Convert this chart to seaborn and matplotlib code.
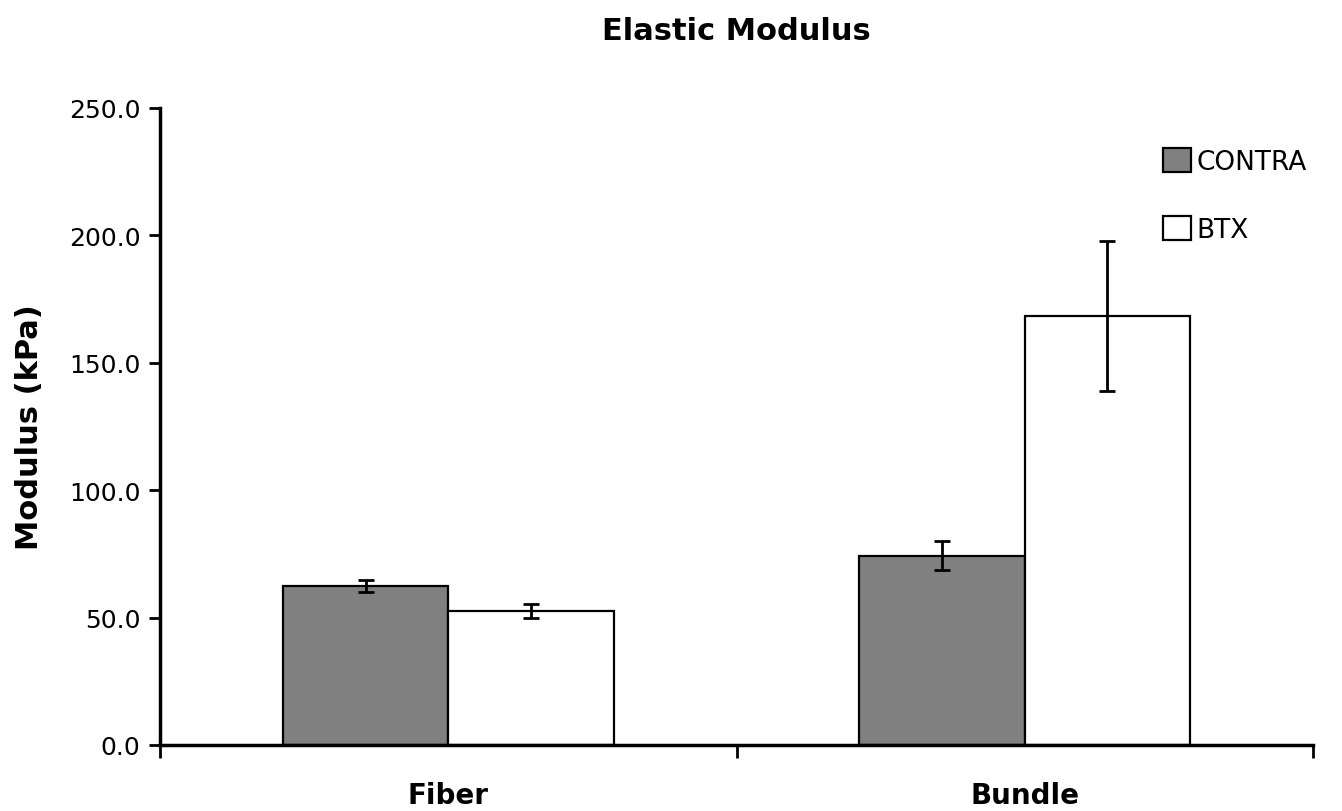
import pandas as pd
import seaborn as sns
import matplotlib.pyplot as plt
from matplotlib.patches import Patch

# data
tissues = ['Fiber', 'Bundle']
groups = ['CONTRA', 'BTX']
contra_mean = [62.5, 74.2]
contra_err = [2.4, 5.7]
btx_mean = [52.7, 168.5]
btx_err = [2.7, 29.4]

df = pd.DataFrame({
    'tissue': tissues * 2,
    'group': ['CONTRA'] * 2 + ['BTX'] * 2,
    'modulus': contra_mean + btx_mean,
})
errs = {'CONTRA': contra_err, 'BTX': btx_err}
colors = {'CONTRA': '#808080', 'BTX': 'white'}

sns.set_style('white')
plt.rcParams['font.family'] = ['DejaVu Sans']
plt.rcParams['text.color'] = 'black'
plt.rcParams['axes.labelcolor'] = 'black'
plt.rcParams['xtick.color'] = 'black'
plt.rcParams['ytick.color'] = 'black'

fig = plt.figure(figsize=(13.42, 8.12), dpi=100)
ax = fig.add_axes([160 / 1342, 1 - 746 / 812, (1313 - 160) / 1342, (746 - 109) / 812])

sns.barplot(data=df, x='tissue', y='modulus', hue='group', order=tissues,
            hue_order=groups, palette=colors, edgecolor='black', linewidth=1.6,
            width=0.574, errorbar=None, ax=ax, legend=False)

# error bars at bar centres
for grp, cont in zip(groups, ax.containers):
    xs = [b.get_x() + b.get_width() / 2 for b in cont]
    ys = [b.get_height() for b in cont]
    ax.errorbar(xs, ys, yerr=errs[grp], fmt='none', ecolor='black',
                elinewidth=2, capsize=6, capthick=2, zorder=5)

ax.set_ylim(0, 250)
ax.set_xlim(-0.5, 1.5)
ax.set_yticks(range(0, 251, 50))
ax.set_yticklabels([f'{v:.1f}' for v in range(0, 251, 50)], fontsize=18)
ax.tick_params(axis='y', direction='out', length=8, width=2, left=True, pad=6)

# excel style: ticks between categories, labels in the middle
ax.set_xticks([-0.5, 0.5, 1.5])
ax.set_xticklabels([])
ax.set_xticks([0, 1], minor=True)
ax.set_xticklabels(tissues, minor=True, fontsize=20, fontweight='bold')
ax.tick_params(axis='x', which='major', direction='out', length=9, width=2, bottom=True)
ax.tick_params(axis='x', which='minor', length=0, pad=26)

ax.set_xlabel('')
ax.set_ylabel('Modulus (kPa)', fontsize=22, fontweight='bold', labelpad=18)
ax.set_title('Elastic Modulus', fontsize=22, fontweight='bold', pad=50)

for s in ['top', 'right']:
    ax.spines[s].set_visible(False)
for s in ['left', 'bottom']:
    ax.spines[s].set_linewidth(2.5)
    ax.spines[s].set_color('black')

handles = [Patch(facecolor=colors[g], edgecolor='black', linewidth=1.6, label=g) for g in groups]
ax.legend(handles=handles, loc='upper right', bbox_to_anchor=(1.015, 0.975), frameon=False,
          fontsize=19, handlelength=1.05, handleheight=1.05, handletextpad=0.2,
          labelspacing=1.55)

fig.savefig('out.png', dpi=100)
